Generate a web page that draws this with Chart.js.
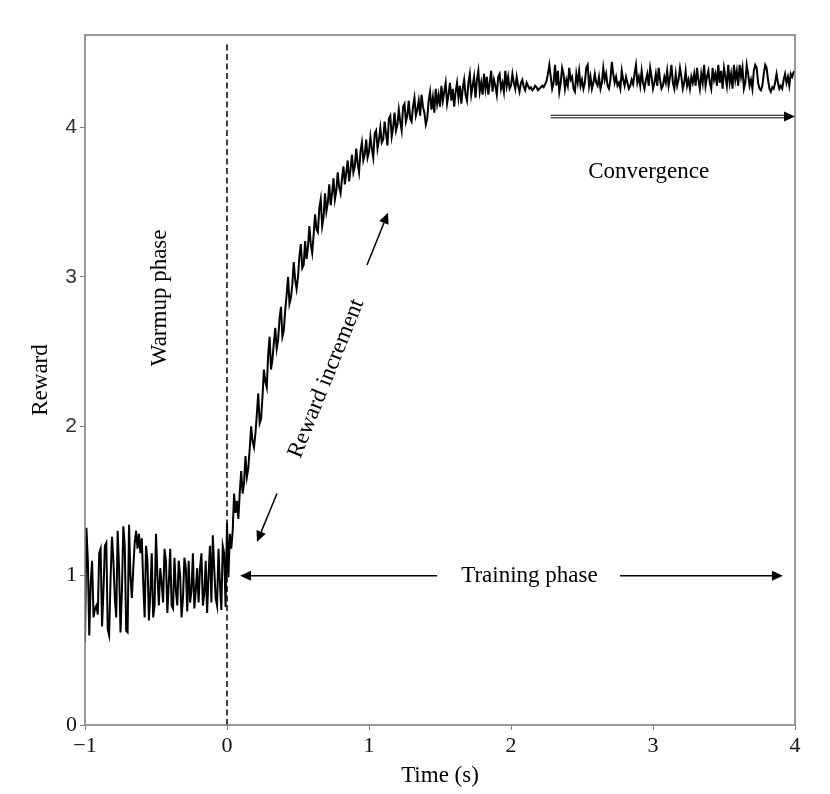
<!DOCTYPE html>
<html>
<head>
    <title>Reward</title>
    <meta charset="utf-8">
    <script src="https://cdn.jsdelivr.net/npm/chart.js@4.4.1/dist/chart.umd.min.js"></script>
    <style>
        body { margin: 0; background: #fff; }
    </style>
</head>
<body>
<canvas id="reward_chart" width="830" height="794"></canvas>
<script>
    // sampling of the time axis (s)
    const t_start = -1;
    const t_step = 0.01;

    // reward, one value per step
    const warmup = [
        0.55,1.32,1.10,0.60,0.95,1.10,0.72,0.78,0.80,0.74,
        1.15,1.18,0.66,0.90,1.20,1.22,0.64,0.60,0.98,1.26,
        1.10,0.85,0.72,1.30,1.05,0.62,0.90,1.33,1.20,0.63,
        0.62,1.34,1.00,0.85,1.05,1.22,1.30,1.18,1.28,1.15,
        1.25,0.95,0.72,1.20,1.10,0.70,0.88,1.15,0.72,0.80,
        1.28,1.00,0.80,1.05,0.95,0.82,1.18,1.10,0.75,0.95,
        1.18,0.80,0.78,1.12,0.90,0.80,1.10,1.00,0.72,0.85,
        1.12,1.05,0.76,1.10,0.82,0.90,1.15,0.78,0.90,1.05,
        0.82,1.05,1.15,0.80,0.88,1.10,0.75,1.00,1.20,0.82,
        1.27,1.05,0.85,0.80,1.18,0.95,0.77,1.20,1.15,0.79
    ];
    const rising = [
        1.35,0.99,1.28,1.18,1.30, 1.55,1.42,1.50,1.38,1.56,
        1.70,1.55,1.62,1.80,1.66, 1.72,1.85,2.00,1.90,1.86,
        1.95,2.08,2.22,2.02,2.05, 2.20,2.38,2.30,2.26,2.48,
        2.60,2.38,2.45,2.56,2.66, 2.52,2.58,2.72,2.80,2.60,
        2.64,2.78,2.88,3.00,2.82, 2.86,2.95,3.10,2.98,2.92,
        3.00,3.14,3.22,3.06,3.08, 3.24,3.12,3.20,3.34,3.22,
        3.16,3.28,3.42,3.32,3.30, 3.46,3.52,3.34,3.40,3.56,
        3.44,3.50,3.62,3.48,3.56, 3.66,3.52,3.58,3.70,3.60,
        3.56,3.66,3.74,3.62,3.70, 3.78,3.64,3.72,3.82,3.70,
        3.74,3.86,3.76,3.70,3.84, 3.90,3.78,3.82,3.92,3.80,
        3.84,3.94,3.86,3.80,3.96, 3.98,3.86,3.92,4.00,3.90,
        3.92,4.04,3.96,3.88,4.06, 4.08,3.94,4.00,4.10,3.98,
        4.02,4.12,4.04,3.98,4.14, 4.16,4.04,4.08,4.18,4.06,
        4.04,4.14,4.20,4.08,4.12, 4.18,4.08,4.22,4.14,4.10,
        4.02,4.06,4.18,4.24,4.12, 4.20,4.10,4.26,4.16,4.22,
        4.14,4.28,4.18,4.24,4.30, 4.16,4.22,4.30,4.18,4.26,
        4.14,4.24,4.30,4.20,4.28, 4.16,4.26,4.32,4.22,4.18,
        4.30,4.36,4.22,4.28,4.34, 4.20,4.32,4.38,4.24,4.30,
        4.22,4.36,4.26,4.34,4.22, 4.30,4.38,4.24,4.32,4.28,
        4.22,4.34,4.36,4.26,4.30, 4.24,4.38,4.28,4.34,4.26
    ];
    const converged = [
        4.28,4.36,4.30,4.26,4.34,4.28,4.24,4.30,4.32,4.27,
        4.25,4.30,4.28,4.26,4.27,4.25,4.26,4.28,4.27,4.25,
        4.26,4.27,4.28,4.27,4.29,4.31,4.36,4.42,4.34,4.26,
        4.30,4.42,4.28,4.38,4.24,4.30,4.40,4.36,4.26,4.32,
        4.28,4.40,4.32,4.34,4.26,4.24,4.36,4.30,4.38,4.28,
        4.32,4.26,4.30,4.40,4.42,4.28,4.34,4.26,4.30,4.36,
        4.30,4.28,4.34,4.26,4.30,4.40,4.32,4.36,4.28,4.26,
        4.32,4.44,4.36,4.30,4.34,4.28,4.30,4.26,4.38,4.32,
        4.28,4.34,4.30,4.26,4.28,4.32,4.29,4.36,4.42,4.30,
        4.34,4.28,4.38,4.30,4.26,4.32,4.36,4.28,4.40,4.34,
        4.26,4.30,4.36,4.28,4.40,4.32,4.26,4.28,4.34,4.30,
        4.38,4.28,4.34,4.42,4.30,4.26,4.36,4.28,4.32,4.40,
        4.34,4.26,4.30,4.38,4.28,4.32,4.26,4.34,4.30,4.36,
        4.28,4.40,4.32,4.26,4.36,4.30,4.42,4.28,4.34,4.38,
        4.30,4.26,4.40,4.32,4.36,4.28,4.42,4.30,4.38,4.26,
        4.40,4.34,4.28,4.42,4.30,4.36,4.26,4.42,4.32,4.38,
        4.28,4.42,4.34,4.40,4.26,4.30,4.42,4.36,4.28,4.32,
        4.26,4.38,4.42,4.40,4.30,4.26,4.25,4.28,4.36,4.42,
        4.40,4.32,4.26,4.24,4.27,4.26,4.30,4.36,4.30,4.26,
        4.28,4.26,4.32,4.36,4.30,4.34,4.28,4.36,4.34,4.37,
        4.38
    ];

    const x_ticks = [-1, 0, 1, 2, 3, 4];
    const y_ticks = [0, 1, 2, 3, 4];

    // annotations, in data units
    const warmup_end = 0;
    const dash_top = 4.56;
    const notes = [
        { text: 'Warmup phase', x: -0.47, y: 2.86, rot: -90 },
        { text: 'Reward increment', x: 0.70, y: 2.32, rot: -68 },
        { text: 'Training phase', x: 2.13, y: 1.0, rot: 0 },
        { text: 'Convergence', x: 2.97, y: 3.70, rot: 0 }
    ];
    const arrows = [
        { from: [0.986, 3.08], to: [1.134, 3.43] },
        { from: [0.352, 1.55], to: [0.211, 1.225] },
        { from: [1.479, 1.0], to: [0.092, 1.0] },
        { from: [2.768, 1.0], to: [3.915, 1.0] },
        { from: [2.28, 4.074], to: [4.0, 4.074], double: true }
    ];

    const serif = '"Liberation Serif", "Times New Roman", serif';
    const sans = '"Liberation Sans", Arial, sans-serif';
    const axis_grey = '#808080';

    const reward = warmup.concat(rising, converged);
    const points = reward.map(function (v, i) {
        return { x: +(t_start + i * t_step).toFixed(2), y: v };
    });

    function head(ctx, x0, y0, x1, y1, len, half) {
        var a = Math.atan2(y1 - y0, x1 - x0);
        var bx = x1 - len * Math.cos(a), by = y1 - len * Math.sin(a);
        ctx.beginPath();
        ctx.moveTo(x1, y1);
        ctx.lineTo(bx + half * Math.sin(a), by - half * Math.cos(a));
        ctx.lineTo(bx - half * Math.sin(a), by + half * Math.cos(a));
        ctx.closePath();
        ctx.fill();
        return [bx, by];
    }

    const annotate = {
        id: 'annotate',
        beforeDatasetsDraw(chart) {
            const ctx = chart.ctx, x = chart.scales.x, y = chart.scales.y;
            ctx.save();
            ctx.strokeStyle = '#000';
            ctx.lineWidth = 1.5;
            ctx.setLineDash([6, 3.5]);
            ctx.beginPath();
            ctx.moveTo(x.getPixelForValue(warmup_end), y.getPixelForValue(0));
            ctx.lineTo(x.getPixelForValue(warmup_end), y.getPixelForValue(dash_top));
            ctx.stroke();
            ctx.restore();
        },
        afterDatasetsDraw(chart) {
            const ctx = chart.ctx, x = chart.scales.x, y = chart.scales.y, a = chart.chartArea;
            ctx.save();
            // frame
            ctx.strokeStyle = axis_grey;
            ctx.lineWidth = 1.6;
            ctx.strokeRect(a.left, a.top, a.right - a.left, a.bottom - a.top);

            ctx.fillStyle = '#000';
            ctx.strokeStyle = '#000';
            ctx.lineWidth = 1.5;
            arrows.forEach(function (ar) {
                var x0 = x.getPixelForValue(ar.from[0]), y0 = y.getPixelForValue(ar.from[1]);
                var x1 = x.getPixelForValue(ar.to[0]), y1 = y.getPixelForValue(ar.to[1]);
                var base = head(ctx, x0, y0, x1, y1, 11, 5);
                if (ar.double) {
                    ctx.lineWidth = 1;
                    ctx.beginPath();
                    ctx.moveTo(x0, y0 - 1.3); ctx.lineTo(base[0], base[1] - 1.3);
                    ctx.moveTo(x0, y0 + 1.3); ctx.lineTo(base[0], base[1] + 1.3);
                    ctx.stroke();
                    ctx.lineWidth = 1.5;
                } else {
                    ctx.beginPath();
                    ctx.moveTo(x0, y0); ctx.lineTo(base[0], base[1]);
                    ctx.stroke();
                }
            });

            ctx.font = '23px ' + serif;
            ctx.textAlign = 'center';
            ctx.textBaseline = 'middle';
            notes.forEach(function (n) {
                ctx.save();
                ctx.translate(x.getPixelForValue(n.x), y.getPixelForValue(n.y));
                ctx.rotate(n.rot * Math.PI / 180);
                ctx.fillText(n.text, 0, 0);
                ctx.restore();
            });
            ctx.restore();
        }
    };

    new Chart('reward_chart', {
        type: 'line',
        data: {
            datasets: [{
                data: points,
                borderColor: '#000',
                borderWidth: 2,
                pointRadius: 0,
                tension: 0,
                fill: false
            }]
        },
        options: {
            responsive: false,
            animation: false,
            layout: { padding: { top: 35, right: 35, left: 0, bottom: 0 } },
            plugins: { legend: { display: false }, tooltip: { enabled: false } },
            scales: {
                x: {
                    type: 'linear', min: -1, max: 4,
                    afterBuildTicks: function (s) { s.ticks = x_ticks.map(function (v) { return { value: v }; }); },
                    afterFit: function (s) { s.height = 69; },
                    border: { display: false },
                    grid: { drawOnChartArea: false, drawTicks: true, tickLength: 5, color: axis_grey },
                    ticks: {
                        padding: 3,
                        color: '#111',
                        font: { family: serif, size: 22 },
                        callback: function (v) { return v < 0 ? '\u2212' + Math.abs(v) : String(v); }
                    },
                    title: { display: true, text: 'Time (s)', color: '#000', font: { family: serif, size: 23 }, padding: { top: 0, bottom: 4 } }
                },
                y: {
                    type: 'linear', min: 0, max: 4.62,
                    afterBuildTicks: function (s) { s.ticks = y_ticks.map(function (v) { return { value: v }; }); },
                    afterFit: function (s) { s.width = 85; },
                    border: { display: false },
                    grid: { drawOnChartArea: false, drawTicks: true, tickLength: 5, color: axis_grey },
                    ticks: {
                        padding: 3,
                        color: function (c) { return c.tick && c.tick.value >= 2 ? '#333' : '#111'; },
                        font: function (c) {
                            return c.tick && c.tick.value >= 2 ? { family: sans, size: 21 } : { family: serif, size: 22 };
                        }
                    },
                    title: { display: true, text: 'Reward', color: '#000', font: { family: serif, size: 23 }, padding: { top: 27, bottom: 0 } }
                }
            }
        },
        plugins: [annotate]
    });
</script>
</body>
</html>
